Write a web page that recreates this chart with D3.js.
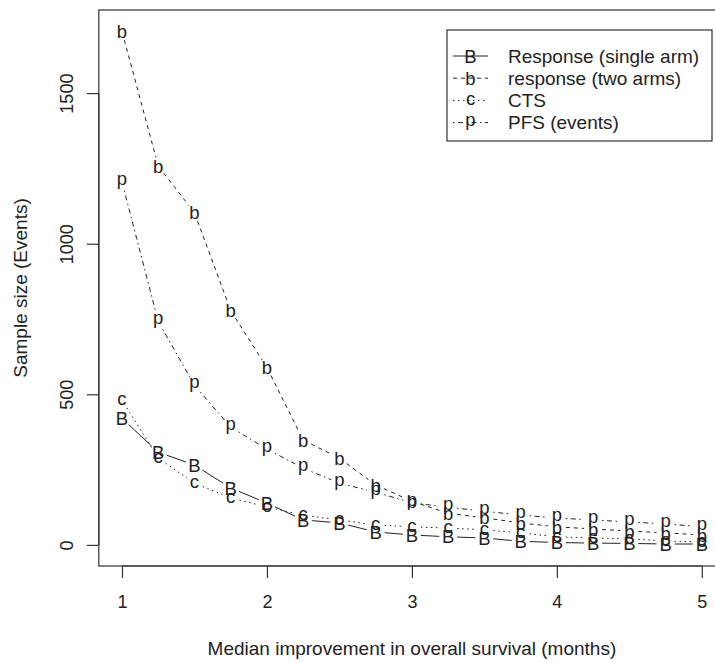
<!DOCTYPE html>
<html>
<head>
<meta charset="utf-8">
<script src="https://cdn.jsdelivr.net/npm/d3@7"></script>
<style>
  body { margin: 0; background: #fff; }
  svg { display: block; font-family: "Liberation Sans", Arial, Helvetica, sans-serif; }
</style>
</head>
<body>
<script>
// Data
const months = [1, 1.25, 1.5, 1.75, 2, 2.25, 2.5, 2.75, 3, 3.25, 3.5, 3.75, 4, 4.25, 4.5, 4.75, 5];
const singleArm = [420, 308, 265, 189, 139, 83, 73, 43, 33, 27, 23, 12, 8, 6, 5, 3, 3];
const twoArms = [1705, 1258, 1103, 778, 589, 348, 288, 199, 145, 105, 90, 73, 60, 53, 46, 40, 33];
const cts = [480, 288, 205, 156, 126, 99, 83, 66, 60, 56, 50, 40, 27, 23, 20, 13, 10];
const pfs = [1205, 742, 530, 391, 318, 255, 205, 175, 140, 125, 112, 99, 89, 83, 76, 70, 60];

const seriesNames = ['Response (single arm)', 'response (two arms)', 'CTS', 'PFS (events)'];
const seriesSymbols = ['B', 'b', 'c', 'p'];
const xTicks = [1, 2, 3, 4, 5];
const yTicks = [0, 500, 1000, 1500];

// line types like R's lty 1..4
const dashes = [null, '4,4', '1.5,3.5', '1.5,3.5,5,3.5'];
// vertical centring of each letter (in em, from baseline)
const glyphShift = { B: 0.36, b: 0.36, c: 0.26, p: 0.16 };

const width = 715;
const height = 663;
const plot = { left: 98.8, right: 725, top: 10, bottom: 566 };
const tickFont = 18;
const textFont = 19;
const symFont = 18.5;
const ink = '#222';

const svg = d3.select('body')
  .append('svg')
  .attr('width', width)
  .attr('height', height);

const x = d3.scaleLinear()
  .domain([0.84, 5.16])
  .range([plot.left, plot.right]);

const y = d3.scaleLinear()
  .domain([-70, 1776])
  .range([plot.bottom, plot.top]);

// plot box
svg.append('rect')
  .attr('x', plot.left)
  .attr('y', plot.top)
  .attr('width', plot.right - plot.left)
  .attr('height', plot.bottom - plot.top)
  .attr('fill', 'none')
  .attr('stroke', '#333')
  .attr('stroke-width', 1.2);

// axes
const xAxis = d3.axisBottom(x).tickValues(xTicks).tickSize(12).tickPadding(17).tickFormat(d3.format('d'));
const yAxis = d3.axisLeft(y).tickValues(yTicks).tickSize(12).tickFormat(d3.format('d'));

const gx = svg.append('g')
  .attr('transform', `translate(0,${plot.bottom})`)
  .call(xAxis);
const gy = svg.append('g')
  .attr('transform', `translate(${plot.left},0)`)
  .call(yAxis);

[gx, gy].forEach(g => {
  g.select('.domain').remove();
  g.selectAll('.tick line').attr('stroke', '#333').attr('stroke-width', 1.2);
  g.selectAll('.tick text')
    .attr('fill', ink)
    .style('font-size', tickFont + 'px')
    .style('font-family', '"Liberation Sans", Arial, sans-serif');
});

gy.selectAll('.tick text')
  .attr('x', null)
  .attr('dy', null)
  .attr('text-anchor', 'middle')
  .attr('transform', 'translate(-26,0) rotate(-90)');

// axis lines only span first to last tick, as in R
gx.append('line')
  .attr('x1', x(xTicks[0])).attr('x2', x(xTicks[xTicks.length - 1]))
  .attr('stroke', '#333').attr('stroke-width', 1.2);
gy.append('line')
  .attr('y1', y(yTicks[0])).attr('y2', y(yTicks[yTicks.length - 1]))
  .attr('stroke', '#333').attr('stroke-width', 1.2);

// axis titles
svg.append('text')
  .attr('x', (plot.left + plot.right) / 2)
  .attr('y', 655)
  .attr('text-anchor', 'middle')
  .attr('fill', ink)
  .style('font-size', textFont + 'px')
  .text('Median improvement in overall survival (months)');

svg.append('text')
  .attr('transform', `translate(27,${(plot.top + plot.bottom) / 2}) rotate(-90)`)
  .attr('text-anchor', 'middle')
  .attr('fill', ink)
  .style('font-size', textFont + 'px')
  .text('Sample size (Events)');

// series: type "b" -> letters joined by lines with a gap round each letter
const allSeries = [singleArm, twoArms, cts, pfs];
const gap = 9;

allSeries.forEach((values, s) => {
  const pts = months.map((m, i) => [x(m), y(values[i])]);
  const g = svg.append('g');

  for (let i = 0; i < pts.length - 1; i++) {
    const [x0, y0] = pts[i];
    const [x1, y1] = pts[i + 1];
    const len = Math.hypot(x1 - x0, y1 - y0);
    if (len <= 2 * gap) continue;
    const f = gap / len;
    g.append('line')
      .attr('x1', x0 + f * (x1 - x0))
      .attr('y1', y0 + f * (y1 - y0))
      .attr('x2', x1 - f * (x1 - x0))
      .attr('y2', y1 - f * (y1 - y0))
      .attr('stroke', ink)
      .attr('stroke-width', 1)
      .attr('stroke-dasharray', dashes[s]);
  }

  const sym = seriesSymbols[s];
  g.selectAll('text')
    .data(pts)
    .enter()
    .append('text')
    .attr('x', d => d[0])
    .attr('y', d => d[1])
    .attr('dy', glyphShift[sym] + 'em')
    .attr('text-anchor', 'middle')
    .attr('fill', ink)
    .style('font-size', symFont + 'px')
    .text(sym);
});

// legend
const legend = { left: 447, top: 30, right: 712, bottom: 141, rowTop: 56, rowStep: 22.2 };
svg.append('rect')
  .attr('x', legend.left)
  .attr('y', legend.top)
  .attr('width', legend.right - legend.left)
  .attr('height', legend.bottom - legend.top)
  .attr('fill', '#fff')
  .attr('stroke', '#333')
  .attr('stroke-width', 1.2);

const rows = svg.selectAll('.legend')
  .data(seriesNames)
  .enter()
  .append('g')
  .attr('class', 'legend')
  .attr('transform', (d, i) => `translate(0,${legend.rowTop + i * legend.rowStep})`);

rows.append('line')
  .attr('x1', 453)
  .attr('x2', 488)
  .attr('stroke', ink)
  .attr('stroke-width', 1)
  .attr('stroke-dasharray', (d, i) => dashes[i]);

rows.append('text')
  .attr('x', 470.5)
  .attr('dy', (d, i) => glyphShift[seriesSymbols[i]] + 'em')
  .attr('text-anchor', 'middle')
  .attr('fill', ink)
  .style('font-size', symFont + 'px')
  .text((d, i) => seriesSymbols[i]);

rows.append('text')
  .attr('x', 508)
  .attr('dy', '0.36em')
  .attr('fill', ink)
  .style('font-size', textFont + 'px')
  .text(d => d);
</script>
</body>
</html>
